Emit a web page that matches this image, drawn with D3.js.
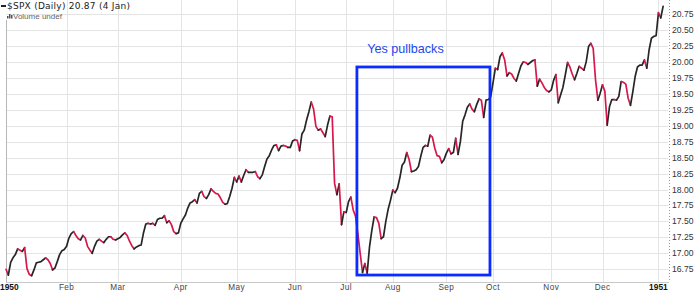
<!DOCTYPE html>
<html><head><meta charset="utf-8">
<script src="https://cdn.jsdelivr.net/npm/d3@7"></script>
<style>html,body{margin:0;padding:0;background:#fff;overflow:hidden}</style>
</head><body><svg id="c" width="700" height="292"></svg>
<script>
// Daily closes of $SPX, 30 Dec 1949 .. 4 Jan 1951
const closes = [
16.75,16.66,16.86,16.93,16.98,17.07,17.05,17.03,17.09,16.76,
16.67,16.65,16.74,16.85,16.86,16.87,16.90,16.93,16.90,16.84,
16.74,16.77,16.87,16.98,17.04,17.06,17.11,17.24,17.31,17.34,
17.28,17.23,17.21,17.28,17.24,17.11,17.05,17.00,17.11,17.19,
17.22,17.19,17.17,17.22,17.26,17.26,17.22,17.21,17.23,17.25,
17.29,17.32,17.28,17.19,17.12,17.07,17.10,17.12,17.13,17.32,
17.46,17.47,17.46,17.47,17.44,17.53,17.55,17.55,17.59,17.48,
17.51,17.45,17.34,17.31,17.32,17.47,17.54,17.60,17.71,17.79,
17.81,17.84,17.79,17.94,17.97,17.89,17.86,17.92,18.01,17.97,
17.94,17.93,17.87,17.80,17.77,17.78,17.89,18.02,18.19,18.12,
18.21,18.12,18.22,18.31,18.27,18.27,18.27,18.28,18.20,18.17,
18.23,18.36,18.48,18.53,18.62,18.69,18.70,18.61,18.68,18.69,
18.68,18.66,18.66,18.76,18.78,18.77,18.61,18.87,18.93,19.09,
19.22,19.37,19.26,18.99,18.93,18.95,18.89,18.83,19.01,19.15,
19.14,18.10,17.92,18.09,17.45,17.65,17.64,17.81,17.88,17.68,
17.58,17.31,17.00,16.70,16.84,16.69,17.10,17.36,17.57,17.56,
17.47,17.23,17.26,17.50,17.69,17.83,17.99,17.95,18.02,18.18,
18.38,18.43,18.58,18.47,18.28,18.29,18.31,18.36,18.52,18.66,
18.69,18.68,18.85,18.82,18.65,18.53,18.52,18.42,18.47,18.57,
18.64,18.56,18.58,18.80,18.55,18.75,19.07,19.17,19.29,19.34,
19.26,19.22,19.33,19.42,19.40,19.13,19.40,19.41,19.45,19.67,
19.90,19.88,20.08,20.14,20.03,19.78,19.83,19.81,19.74,19.70,
19.82,19.94,20.00,19.99,19.96,19.99,20.02,20.03,19.62,19.73,
19.67,19.60,19.55,19.53,19.56,19.71,19.80,19.36,19.48,19.60,
19.79,19.99,19.92,19.81,19.72,19.82,19.93,19.90,19.87,20.00,
20.24,20.29,20.21,19.72,19.40,19.51,19.64,19.54,19.01,19.30,
19.41,19.41,19.40,19.46,19.69,19.68,19.65,19.43,19.32,19.53,
19.77,19.92,19.95,19.95,20.03,19.90,20.19,20.37,20.40,20.41,
20.77,20.69,20.87
];
const monthLabels = ["1950","Feb","Mar","Apr","May","Jun","Jul","Aug","Sep","Oct","Nov","Dec","1951"];
const monthStartIdx = [0,26,48,75,99,124,146,166,189,209,234,256,280];
const yTicks = [16.75,17.00,17.25,17.50,17.75,18.00,18.25,18.50,18.75,19.00,19.25,19.50,19.75,20.00,20.25,20.50,20.75];
const boxIdx = [150.6, 207.7];
const boxVals = [16.66, 19.92];
const noteText = "Yes pullbacks";
const notePos = [155, 20.14];
const title = "$SPX (Daily) 20.87 (4 Jan)";
const subTitle = "Volume undef";

const svg = d3.select("#c");
const x = d3.scaleLinear().domain([0, closes.length - 1]).range([6, 663.1]);
const y = d3.scaleLinear().domain([16.75, 20.75]).range([269.3, 14]);
const plotL = 6, plotR = 669, plotB = 282;

// horizontal grid
svg.append("g").selectAll("line").data(yTicks).join("line")
  .attr("x1", plotL).attr("x2", plotR - 1)
  .attr("y1", d => Math.round(y(d)) + 0.5).attr("y2", d => Math.round(y(d)) + 0.5)
  .attr("stroke", "#e4e4e4").attr("stroke-width", 1);

// vertical grid
svg.append("g").selectAll("line").data(monthStartIdx.slice(1)).join("line")
  .attr("x1", d => Math.round(x(d)) + 0.5).attr("x2", d => Math.round(x(d)) + 0.5)
  .attr("y1", 0).attr("y2", plotB)
  .attr("stroke", "#e4e4e4").attr("stroke-width", 1);

// frame
svg.append("line").attr("x1", plotL + 0.5).attr("x2", plotL + 0.5).attr("y1", 20).attr("y2", plotB)
  .attr("stroke", "#b8b8b8");
svg.append("line").attr("x1", plotL).attr("x2", plotR).attr("y1", plotB + 0.5).attr("y2", plotB + 0.5)
  .attr("stroke", "#c8c8c8");
svg.append("line").attr("x1", plotR + 0.5).attr("x2", plotR + 0.5).attr("y1", 0).attr("y2", plotB)
  .attr("stroke", "#9a9a9a").attr("stroke-dasharray", "1,2");

// right axis labels
svg.append("g").selectAll("text").data(yTicks).join("text")
  .attr("x", 672).attr("y", d => y(d) + 3)
  .attr("font-family", "Liberation Sans, Arial, sans-serif").attr("font-size", 8.6)
  .attr("fill", "#333").text(d => d3.format(".2f")(d));

// bottom labels
svg.append("g").selectAll("text").data(monthLabels).join("text")
  .attr("x", (d, i) => i === 0 ? 0 : x(monthStartIdx[i]))
  .attr("y", 290)
  .attr("text-anchor", (d, i) => i === 0 ? "start" : "middle")
  .attr("font-family", "Liberation Sans, Arial, sans-serif")
  .attr("font-size", (d, i) => (i === 0 || i === monthLabels.length - 1) ? 8.4 : 8.2)
  .attr("font-weight", (d, i) => (i === 0 || i === monthLabels.length - 1) ? "bold" : "normal")
  .attr("letter-spacing", (d, i) => (i === 0 || i === monthLabels.length - 1) ? 0 : 0.4)
  .attr("fill", (d, i) => (i === 0 || i === monthLabels.length - 1) ? "#111" : "#444")
  .text(d => d);

// price line, black when up, red when down
const runs = [];
for (let i = 1; i < closes.length; i++) {
  const col = closes[i] < closes[i - 1] ? "#d8174a" : "#262626";
  const last = runs[runs.length - 1];
  if (last && last.col === col) last.pts.push(i);
  else runs.push({col, pts: [i - 1, i]});
}
const lineGen = d3.line().x(i => x(i)).y(i => y(closes[i]));
svg.append("g").selectAll("path").data(runs).join("path")
  .attr("d", r => lineGen(r.pts)).attr("fill", "none")
  .attr("stroke", r => r.col).attr("stroke-width", 1.7)
  .attr("stroke-linejoin", "round").attr("stroke-linecap", "round");

// annotation box
svg.append("rect")
  .attr("x", x(boxIdx[0])).attr("y", y(boxVals[1]))
  .attr("width", x(boxIdx[1]) - x(boxIdx[0])).attr("height", y(boxVals[0]) - y(boxVals[1]))
  .attr("fill", "none").attr("stroke", "#0b2cff").attr("stroke-width", 2.8);
svg.append("text").attr("x", x(notePos[0])).attr("y", y(notePos[1]))
  .attr("font-family", "Liberation Sans, Arial, sans-serif").attr("font-size", 12.6)
  .attr("fill", "#2447f0").text(noteText);

// header
svg.append("line").attr("x1", 1).attr("x2", 6).attr("y1", 6).attr("y2", 6)
  .attr("stroke", "#222").attr("stroke-width", 2);
svg.append("text").attr("x", 7).attr("y", 8.8)
  .attr("font-family", "DejaVu Sans, Verdana, sans-serif").attr("font-size", 9)
  .attr("letter-spacing", 0.25)
  .attr("fill", "#222").text(title);
const icon = svg.append("g").attr("fill", "#555");
[[7, 16, 2.5], [9, 14, 4.5], [11, 15, 3.5]].forEach(b => {
  icon.append("rect").attr("x", b[0]).attr("y", b[1]).attr("width", 1.5).attr("height", b[2]);
});
svg.append("text").attr("x", 13).attr("y", 19)
  .attr("font-family", "Liberation Sans, Arial, sans-serif").attr("font-size", 8)
  .attr("fill", "#666").text(subTitle);
</script>
</body></html>
